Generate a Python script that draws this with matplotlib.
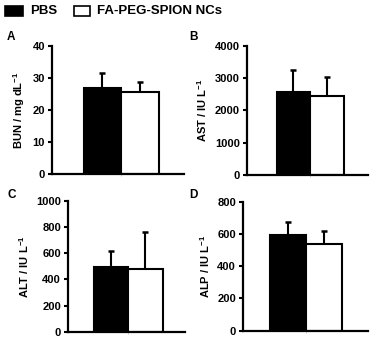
import matplotlib
matplotlib.use("Agg")
import matplotlib.pyplot as plt
from matplotlib.patches import Rectangle

groups = ["PBS", "FA-PEG-SPION NCs"]
panels = ["A", "B", "C", "D"]
ylabels = ["BUN / mg dL$^{\\mathbf{-1}}$", "AST / IU L$^{\\mathbf{-1}}$",
           "ALT / IU L$^{\\mathbf{-1}}$", "ALP / IU L$^{\\mathbf{-1}}$"]
pbs_mean = [26.9, 2567, 491, 593]
pbs_err = [4.5, 680, 127, 83]
fa_mean = [25.5, 2454, 476, 535]
fa_err = [3.2, 587, 282, 83]
ymax = [40, 4000, 1000, 800]
yticks = [[0, 10, 20, 30, 40], [0, 1000, 2000, 3000, 4000],
          [0, 200, 400, 600, 800, 1000], [0, 200, 400, 600, 800]]

plt.rcParams['font.family'] = ['Liberation Sans', 'DejaVu Sans']
plt.rcParams['font.weight'] = 'bold'
plt.rcParams['mathtext.fontset'] = 'custom'
plt.rcParams['mathtext.rm'] = 'Liberation Sans:bold'
plt.rcParams['mathtext.bf'] = 'Liberation Sans:bold'

W, H = 371, 337
fig = plt.figure(figsize=(W / 100, H / 100), dpi=100)

# layout in pixels: left, right, bottom, top, bar center, bar width px
layout = [
    (52, 184, 174, 45.7, 121, 37.5),
    (246.7, 368, 175, 45.7, 310, 33.5),
    (68, 185, 331.7, 200.7, 128, 34.5),
    (243, 368, 330.7, 201.7, 306, 36),
]
letter_pos = [(7, 37), (189, 37), (8, 195), (189, 195)]

for i in range(4):
    l, r, b, t, c, bw = layout[i]
    ax = fig.add_axes([l / W, (H - b) / H, (r - l) / W, (b - t) / H])
    ax.bar([-0.5], [pbs_mean[i]], width=1, color='black', edgecolor='black', linewidth=1.5, zorder=2)
    ax.bar([0.5], [fa_mean[i]], width=1, color='white', edgecolor='black', linewidth=1.5, zorder=2)
    ax.errorbar([-0.5], [pbs_mean[i]], yerr=[[0], [pbs_err[i]]], fmt='none', ecolor='black',
                elinewidth=1.5, capsize=2.2, capthick=1.8, zorder=1)
    ax.errorbar([0.5], [fa_mean[i]], yerr=[[0], [fa_err[i]]], fmt='none', ecolor='black',
                elinewidth=1.5, capsize=2.2, capthick=1.8, zorder=1)
    ax.set_xlim(-(c - l) / bw, (r - c) / bw)
    ax.set_ylim(0, ymax[i])
    ax.set_yticks(yticks[i])
    ax.set_yticklabels([str(v) for v in yticks[i]], fontsize=8, fontweight='bold')
    ax.set_xticks([0])
    ax.set_xticklabels([''])
    ax.tick_params(axis='x', length=1.5, width=0.5, color='#bbbbbb')
    ax.tick_params(axis='y', length=3, width=1.5, pad=2)
    for s in ['top', 'right']:
        ax.spines[s].set_visible(False)
    for s in ['left', 'bottom']:
        ax.spines[s].set_linewidth(1.6)
    ax.set_ylabel(ylabels[i], fontsize=8, fontweight='bold', labelpad=4)
    ax.patch.set_visible(False)
    fig.text(letter_pos[i][0] / W, 1 - letter_pos[i][1] / H, panels[i], fontsize=8.5,
             fontweight='bold', va='center', ha='left')

# legend
fig.patches.append(Rectangle((5 / W, 1 - 16 / H), 18 / W, 10 / H, transform=fig.transFigure,
                             facecolor='black', edgecolor='black', linewidth=1.2))
fig.patches.append(Rectangle((74 / W, 1 - 16 / H), 16 / W, 10 / H, transform=fig.transFigure,
                             facecolor='white', edgecolor='black', linewidth=1.2))
fig.text(30 / W, 1 - 11 / H, groups[0], fontsize=9.5, fontweight='bold', va='center')
fig.text(97 / W, 1 - 11 / H, groups[1], fontsize=9.5, fontweight='bold', va='center')

fig.savefig("out.png", dpi=100)
